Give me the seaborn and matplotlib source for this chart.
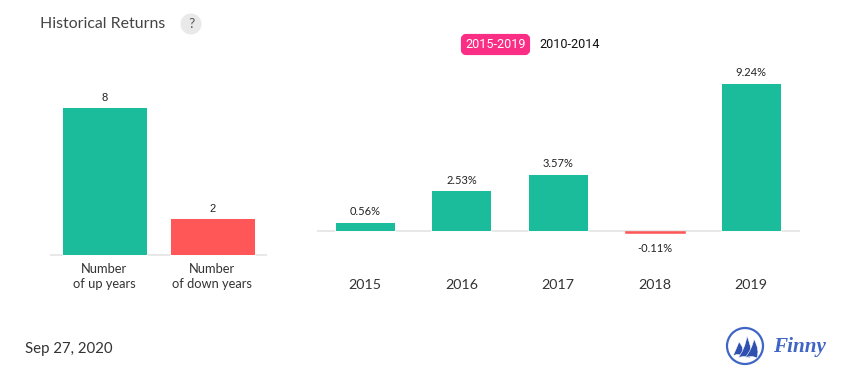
import matplotlib
matplotlib.use('Agg')
import matplotlib.pyplot as plt
from matplotlib.patches import Circle, FancyBboxPatch, PathPatch
from matplotlib.path import Path
import pandas as pd
import seaborn as sns

# --- data ---
count_labels = ['Number\nof up years', 'Number\nof down years']
count_values = [8, 2]
count_text = ['8', '2']
count_colors = ['up', 'down']

years = ['2015', '2016', '2017', '2018', '2019']
returns = [0.56, 2.53, 3.57, -0.11, 9.24]
return_text = ['0.56%', '2.53%', '3.57%', '-0.11%', '9.24%']

GREEN = '#1abc9c'
RED = '#ff5757'
BLUE = '#3f66c4'
W, H = 855, 382

sns.set_theme(style='white')
plt.rcParams['font.family'] = ['Lato', 'DejaVu Sans']


def px_axes(fig, left, top, right, bottom):
    return fig.add_axes([left / W, 1 - bottom / H, (right - left) / W, (bottom - top) / H])


def style_bars(ax, colors):
    ax.axhline(0, color='#e8e8e8', lw=1.4, zorder=0)
    for patch, c in zip(ax.patches, colors):
        patch.set_zorder(2)
        patch.set_facecolor(c)
        patch.set_edgecolor('white' if patch.get_height() > 0 else c)
        patch.set_linewidth(0.7 if patch.get_height() > 0 else 0.4)
    ax.set_xlabel('')
    ax.set_ylabel('')
    ax.set_yticks([])
    sns.despine(ax=ax, left=True, bottom=True, top=True, right=True)
    ax.patch.set_alpha(0)


fig = plt.figure(figsize=(W / 100, H / 100), dpi=100)

# --- page furniture, in pixel coordinates ---
bg = fig.add_axes([0, 0, 1, 1])
bg.set_xlim(0, W)
bg.set_ylim(H, 0)
bg.axis('off')

bg.text(40, 24, 'Historical Returns', fontsize=11.4, color='#444444', va='center')
bg.add_patch(Circle((191, 24), 10.5, fc='#e9e9e9', ec='none'))
bg.text(191, 24, '?', fontsize=10, color='#555555', ha='center', va='center')

bg.add_patch(FancyBboxPatch((463, 36), 65, 17, boxstyle='round,pad=0,rounding_size=3',
                            mutation_aspect=1, fc='#fb2e86', ec='#fb2e86', lw=3))
bg.text(495.5, 45, '2015-2019', fontsize=9.1, color='white', ha='center', va='center',
        family='Roboto')
bg.text(570, 45, '2010-2014', fontsize=9.1, color='#111111', ha='center', va='center',
        family='Roboto')

bg.text(25, 348.5, 'Sep 27, 2020', fontsize=10.8, color='#333333', va='center')

# logo
bg.add_patch(Circle((745, 346), 18, fc='none', ec=BLUE, lw=1.6))
for x0, x1, tip, base in [(733, 742, 342, 356), (738, 750, 336, 358), (745, 757, 339, 358)]:
    verts = [(x0, base), (x1 - 5, base - 9), (x1 - 3, tip), (x1 + 3, base - 8),
             (x1, base), ((x0 + x1) / 2, base - 3), (x0, base), (x0, base)]
    codes = [Path.MOVETO, Path.CURVE3, Path.CURVE3, Path.CURVE3, Path.CURVE3,
             Path.CURVE3, Path.CURVE3, Path.CLOSEPOLY]
    bg.add_patch(PathPatch(Path(verts, codes), fc='#2f50ae', ec='white', lw=0.4))
bg.text(773, 347, 'Finny', fontsize=15.2, color=BLUE, va='center', family='Liberation Serif',
        style='italic', weight='bold')

# --- left chart: up / down year counts ---
ax1 = px_axes(fig, 50, 70, 266.5, 270)
df_counts = pd.DataFrame({'label': count_labels, 'value': count_values, 'kind': count_colors})
sns.barplot(data=df_counts, x='label', y='value', ax=ax1, width=0.785, color=GREEN, saturation=1)
ax1.set_xlim(-0.5, 1.5)
ax1.set_ylim(-15 / 18.5, 185 / 18.5)
style_bars(ax1, [GREEN if k == 'up' else RED for k in count_colors])
ax1.bar_label(ax1.containers[0], labels=count_text, padding=3, fontsize=8, color='#222222',
              family='Liberation Sans')
ax1.tick_params(axis='x', length=0, pad=-5.2, labelsize=9.3, labelcolor='#333333')
for tick in ax1.get_xticklabels():
    tick.set_linespacing(1.32)

# --- right chart: calendar year returns ---
ax2 = px_axes(fig, 316.5, 60, 799.5, 270)
df_returns = pd.DataFrame({'year': years, 'value': returns})
sns.barplot(data=df_returns, x='year', y='value', ax=ax2, width=0.62, color=GREEN, saturation=1)
ax2.set_xlim(-0.5, 4.5)
ax2.set_ylim(-39 / 16.05, 171 / 16.05)
style_bars(ax2, [GREEN if v >= 0 else RED for v in returns])
labels = ax2.bar_label(ax2.containers[0], labels=return_text, padding=3.5, fontsize=8,
                       color='#222222')
for label, v in zip(labels, returns):
    if v < 0:
        label.xyann = (label.xyann[0], label.xyann[1] - 4)
ax2.tick_params(axis='x', length=0, pad=6.4, labelsize=10.3, labelcolor='#333333')

fig.savefig('out.png', dpi=100)
